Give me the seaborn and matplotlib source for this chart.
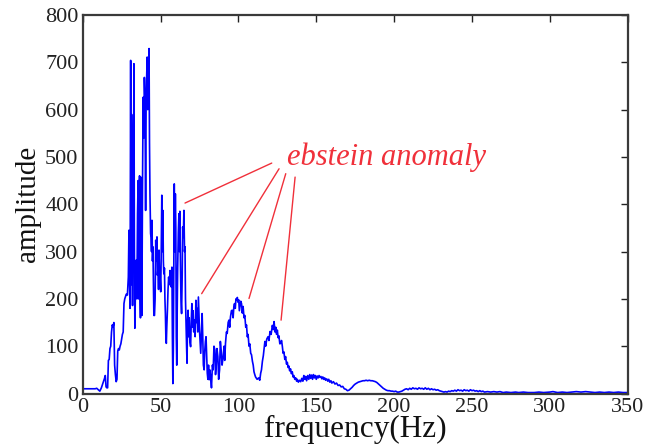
import matplotlib
matplotlib.use("Agg")
import matplotlib.pyplot as plt
import seaborn as sns
import pandas as pd

# ---- data ----
freq_low = [0, 2, 4, 6, 8, 9, 10, 11, 12, 13, 14, 14.5, 15, 15.5, 16, 16.5, 17, 17.5, 18, 18.5,
            19, 19.5, 20, 20.5, 21, 21.5, 22, 22.5, 23, 23.5, 24, 24.5, 25, 25.5, 26, 26.5, 27, 27.5]
amp_low = [10, 10, 10, 10, 10, 11, 8, 5, 12, 22, 32, 38, 14, 12, 12, 70, 72, 95, 100, 130,
           145, 140, 150, 60, 40, 25, 30, 90, 95, 92, 100, 105, 115, 125, 130, 190, 200, 205]

freq_main = [28.0, 28.7, 29.3, 29.7, 30.0, 30.4, 30.8, 31.1, 31.4, 31.7, 32.0, 32.3, 32.6, 32.9,
             33.2, 33.5, 34.0, 34.4, 34.8, 35.2, 35.6, 35.9, 36.2, 36.5, 36.8, 37.1, 37.4, 37.7,
             38.0, 38.4, 38.8, 39.2, 39.6, 40.0, 40.4, 40.7, 41.0, 41.4, 41.8, 42.2, 42.6, 42.9,
             43.2, 43.6, 43.9, 44.2, 44.5, 44.8, 45.1, 45.4, 45.7, 46.1, 46.5, 46.9, 47.3, 47.7,
             48.0, 48.4, 48.7, 49.0, 49.4, 49.7, 50.1, 50.4, 50.8, 51.1, 51.5, 51.8, 52.1, 52.5,
             52.8, 53.1, 53.4, 53.7, 54.0, 54.4, 54.8, 55.2, 55.6, 56.1, 56.5, 56.9, 57.3, 57.6,
             57.9, 58.2, 58.5, 58.8, 59.1, 59.5, 59.8, 60.1, 60.4, 60.7, 61.0, 61.4, 61.8, 62.1,
             62.4, 62.8, 63.1, 63.5, 63.9, 64.2, 64.6, 65.0, 65.4, 65.7, 66.0, 66.4, 66.7, 67.0,
             67.3, 67.7, 68.0, 68.4, 68.8, 69.3, 69.7, 70.1, 70.5, 70.9, 71.3, 71.8, 72.2, 72.7,
             73.1, 73.5, 73.9, 74.3, 74.7, 75.0, 75.4, 75.8, 76.2, 76.7, 77.1, 77.5, 78.0, 78.4,
             78.8, 79.2, 79.6, 80.0, 80.4, 80.8, 81.2, 81.6]
amp_main = [210, 208, 246, 345, 250, 180, 704, 230, 590, 420, 186, 507, 400, 697,
            300, 138, 250, 282, 200, 380, 450, 200, 394, 460, 220, 160, 457, 300,
            165, 436, 626, 540, 668, 620, 387, 600, 660, 711, 600, 680, 729, 528,
            420, 338, 330, 300, 366, 280, 310, 230, 165, 165, 200, 324, 280, 331,
            250, 268, 220, 303, 240, 246, 215, 290, 419, 300, 387, 280, 253, 265,
            200, 169, 120, 106, 140, 176, 220, 246, 230, 260, 240, 225, 267, 120,
            21, 90, 250, 443, 300, 422, 350, 120, 60, 180, 267, 340, 380, 300,
            385, 267, 200, 169, 250, 352, 330, 387, 300, 310, 200, 141, 100, 64,
            150, 176, 120, 160, 110, 99, 150, 190, 140, 175, 130, 155, 120, 197,
            150, 180, 130, 204, 160, 134, 110, 85, 120, 169, 120, 60, 50, 90,
            110, 120, 80, 43, 30, 60, 29, 50]

freq_mid = [82.0, 82.7, 83.3, 83.8, 84.3, 84.9, 85.3, 85.7, 86.2, 86.8, 87.3, 87.9, 88.4, 88.9,
            89.5, 90.2, 90.8, 91.2, 91.7, 92.3, 92.8, 93.4, 93.9, 94.4, 94.9, 95.5, 96.0, 96.6,
            97.1, 97.5, 98.0, 98.4, 98.8, 99.3, 99.7, 100.2, 100.6, 101.0, 101.5, 102.0, 102.5,
            103.0, 103.6, 104.1, 104.7, 105.2, 105.7, 106.2, 106.8, 107.3, 107.9, 108.4, 109.0,
            109.5, 110.0, 110.5, 111.0, 112.0, 113.0, 113.7, 114.3, 114.8, 115.4, 116.0, 116.4,
            117.0, 117.5, 118.2, 119.0, 119.6, 120.3, 121.0, 121.8, 122.4, 122.9, 123.5, 124.0,
            124.5, 125.0, 125.5, 126.0, 126.6, 127.1, 127.7, 128.2, 128.7, 129.2, 129.8, 130.3,
            130.9, 131.4, 131.9, 132.4, 132.9, 133.5, 134.0, 134.6, 135.1, 135.6, 136.2, 136.8,
            137.4, 137.8, 138.5, 139.2]
amp_mid = [40, 12, 60, 50, 100, 92, 40, 57, 95, 78, 30, 50, 110, 92,
           60, 78, 100, 70, 106, 130, 127, 150, 155, 140, 162, 175, 176, 160,
           185, 190, 180, 200, 197, 203, 193, 198, 175, 184, 195, 190, 170,
           184, 160, 165, 140, 145, 120, 125, 100, 105, 85, 82, 68,
           60, 46, 40, 35, 30, 33, 28, 43, 50, 68, 80, 92,
           110, 100, 115, 120, 112, 131, 125, 144, 135, 152, 130, 140,
           125, 134, 118, 122, 105, 106, 112, 100, 85, 88, 72, 78,
           62, 66, 55, 58, 48, 52, 42, 46, 35, 38, 30, 33,
           26, 30, 24, 28]

freq_tail = [140.0, 140.7, 141.4, 142.0, 142.6, 143.2, 143.8, 144.5, 145.2, 145.8, 146.4, 147.0,
             147.6, 148.2, 148.8, 149.4, 150.0, 150.6, 151.2, 151.8, 152.4, 153.0, 153.6, 154.2,
             154.8, 155.4, 156.0, 156.7, 157.4, 158.0, 158.7, 159.4, 160, 161, 162, 163, 164,
             165, 166, 167, 168, 169, 170, 171, 172, 173, 174, 175, 176, 177, 178, 179, 180,
             181, 182, 183, 184, 185, 186, 187, 188, 189, 190, 191, 192, 193, 194, 195, 196,
             197, 198, 199, 200, 201, 202, 203, 204, 205, 206, 207, 208, 209, 210, 211, 212,
             213, 214, 215, 216, 217, 218, 219, 220, 221, 222, 223, 224, 225, 226, 227, 228,
             229, 230, 231, 232, 233, 234, 235, 236, 237, 238, 239, 240, 241, 242, 243, 244,
             245, 246, 247, 248, 249, 250, 251, 252, 253, 254, 255, 256, 257, 258, 260, 262,
             264, 266, 268, 270, 272, 275, 278, 280, 283, 286, 290, 293, 296, 300, 302, 305,
             308, 311, 314, 317, 320, 323, 326, 329, 332, 335, 338, 341, 344, 347, 350]
amp_tail = [25, 32, 26, 38, 30, 36, 27, 38, 30, 40, 32, 39,
            30, 40, 33, 38, 30, 37, 33, 38, 34, 36, 31, 35,
            30, 33, 28, 31, 26, 30, 24, 27, 22, 25, 20, 22, 17,
            18, 14, 15, 10, 9, 6, 7, 10, 13, 17, 20, 22, 24, 25, 26, 27,
            27, 28, 27, 28, 27, 27, 26, 25, 23, 20, 17, 14, 11, 9, 7, 6,
            6, 5, 5, 4, 5, 3, 3, 4, 5, 7, 9, 10, 8, 11, 9, 12,
            10, 11, 9, 12, 10, 11, 9, 12, 9, 11, 8, 10, 8, 9, 7, 8,
            6, 5, 4, 3, 4, 3, 5, 4, 6, 5, 7, 5, 8, 6, 7, 5,
            8, 6, 7, 5, 8, 6, 7, 5, 6, 4, 6, 4, 5, 3, 4, 3,
            4, 3, 4, 2, 3, 2, 3, 2, 3, 2, 2, 3, 2, 3, 4, 2,
            3, 2, 3, 4, 3, 4, 3, 2, 3, 2, 3, 2, 3, 2, 2]

x_ticks = [0, 50, 100, 150, 200, 250, 300, 350]
y_ticks = [0, 100, 200, 300, 400, 500, 600, 700, 800]

annotation_text = "ebstein anomaly"
annotation_text_pos = (131, 499)
annotation_starts = [(121.4, 487), (126.1, 475), (130.4, 464.6), (136.4, 457.4)]
annotation_targets = [(65.7, 402.5), (76.4, 211), (106.8, 200.8), (127.4, 155)]

# ---- build frame ----
df = pd.DataFrame({
    "frequency": freq_low + freq_main + freq_mid + freq_tail,
    "amplitude": amp_low + amp_main + amp_mid + amp_tail,
})

sns.set_style("white")
plt.rcParams["font.family"] = ["Liberation Serif", "DejaVu Serif"]

fig = plt.figure(figsize=(6.59, 4.46), dpi=100)
ax = fig.add_axes([0.1255, 0.1177, 0.827, 0.8487])

sns.lineplot(data=df, x="frequency", y="amplitude", sort=False, estimator=None,
             color="#0000ff", linewidth=1.2, ax=ax)

ax.set_xlim(0, 350)
ax.set_ylim(0, 800)
ax.set_xticks(x_ticks)
ax.set_yticks(y_ticks)
ax.tick_params(direction="in", length=5, width=1.0, top=True, right=True,
               labelsize=16, colors="#222222", pad=3)
for sp in ax.spines.values():
    sp.set_visible(True)
    sp.set_color("#3a3a3a")
    sp.set_linewidth(1.6)

ax.set_xlabel("frequency(Hz)", fontsize=22.5, labelpad=-1, color="#111111")
ax.set_ylabel("amplitude", fontsize=21, labelpad=3, color="#111111")

red = "#f0303a"
for (x0, y0), (x1, y1) in zip(annotation_starts, annotation_targets):
    ax.plot([x0, x1], [y0, y1], color=red, linewidth=1.0)
ax.text(annotation_text_pos[0], annotation_text_pos[1], annotation_text,
        color=red, fontsize=22, fontstyle="italic", va="center", ha="left")

fig.savefig("out.png", dpi=100)
